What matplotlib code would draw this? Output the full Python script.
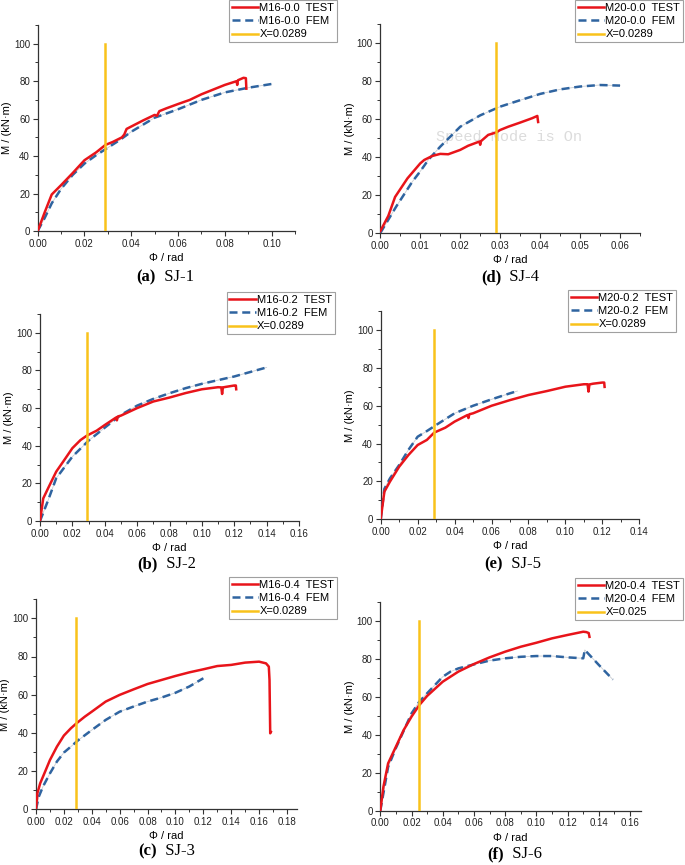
import matplotlib
matplotlib.use("Agg")
import matplotlib.pyplot as plt
from matplotlib.ticker import MultipleLocator, FormatStrFormatter
from matplotlib.lines import Line2D

# ---------------- data ----------------
# (a) SJ-1
a_test_x = [0, 0.003, 0.006, 0.01, 0.015, 0.02, 0.025, 0.029, 0.032, 0.036, 0.037, 0.038, 0.04, 0.045, 0.05, 0.051,
            0.052, 0.055, 0.06, 0.065, 0.07, 0.075, 0.08, 0.085, 0.0853, 0.0856, 0.088, 0.089, 0.0892]
a_test_y = [0, 10, 19.5, 24.5, 31, 37.8, 42, 46, 47.5, 50, 51.5, 54.5, 55.8, 59, 62, 61.5,
            64, 65.5, 67.8, 70, 73, 75.5, 78, 80, 78, 80.5, 81.8, 81.6, 76]
a_fem_x = [0, 0.003, 0.006, 0.01, 0.015, 0.02, 0.025, 0.03, 0.035, 0.04, 0.05, 0.06, 0.07, 0.08, 0.09, 0.1]
a_fem_y = [0, 7, 14.8, 22.5, 30, 36, 40.5, 44.5, 48.5, 53, 60.5, 65, 70, 74, 76.5, 78.5]

# (d) SJ-4
d_test_x = [0, 0.002, 0.0037, 0.0068, 0.01, 0.011, 0.013, 0.015, 0.017, 0.02, 0.022, 0.0248, 0.025, 0.0252,
            0.027, 0.029, 0.03, 0.032, 0.035, 0.038, 0.0393, 0.0395]
d_test_y = [1, 9, 19, 28.8, 36.7, 38.5, 40.6, 41.7, 41.5, 43.8, 46, 48.2, 46.5, 48.4,
            51.7, 53, 54.3, 56, 58.2, 60.5, 61.7, 58.5]
d_fem_x = [0, 0.004, 0.008, 0.01, 0.012, 0.015, 0.02, 0.025, 0.03, 0.035, 0.04, 0.045, 0.05, 0.055, 0.06]
d_fem_y = [0, 14, 27, 32.5, 38.5, 45.5, 56, 62, 66.6, 70, 73.3, 75.7, 77.2, 78, 77.7]

# (b) SJ-2
b_test_x = [0, 0.002, 0.005, 0.01, 0.015, 0.02, 0.025, 0.029, 0.035, 0.04, 0.047, 0.0475, 0.048, 0.05, 0.06, 0.07,
            0.08, 0.09, 0.1, 0.11, 0.112, 0.1125, 0.113, 0.115, 0.12, 0.121, 0.1212]
b_test_y = [0, 12, 17.4, 26.2, 32.4, 38.7, 43, 45.4, 48, 51, 55, 53.5, 55.5, 56, 60, 63.5,
            65.6, 68, 70, 71.1, 71, 67.5, 71, 71.3, 72, 72, 70]
b_fem_x = [0, 0.005, 0.01, 0.02, 0.03, 0.04, 0.05, 0.06, 0.07, 0.08, 0.09, 0.1, 0.12, 0.14]
b_fem_y = [0, 11, 22.7, 34.2, 42.7, 49.6, 56.4, 61.3, 64.9, 67.9, 70.6, 72.9, 76.8, 81.6]

# (e) SJ-5
e_test_x = [0, 0.002, 0.005, 0.01, 0.015, 0.02, 0.025, 0.029, 0.035, 0.04, 0.047, 0.0475, 0.048, 0.05, 0.06, 0.07,
            0.08, 0.09, 0.1, 0.11, 0.112, 0.1125, 0.113, 0.115, 0.12, 0.121, 0.1212]
e_test_y = [0, 14.5, 19.8, 27.7, 33.9, 39.2, 41.9, 45.8, 48.4, 51.6, 55.1, 53.5, 55.5, 56, 60, 63,
            65.7, 67.8, 70.1, 71.4, 71.4, 67.5, 71.3, 71.7, 72.3, 72.3, 70]
e_fem_x = [0, 0.002, 0.005, 0.01, 0.015, 0.02, 0.025, 0.03, 0.04, 0.05, 0.06, 0.07, 0.074]
e_fem_y = [0, 16, 21.5, 28.6, 36.6, 43.6, 46.6, 49.8, 56, 60, 63.4, 66.6, 67.8]

# (c) SJ-3
c_test_x = [0, 0.001, 0.003, 0.006, 0.01, 0.015, 0.02, 0.025, 0.029, 0.035, 0.04, 0.05, 0.06, 0.07, 0.08, 0.09,
            0.1, 0.11, 0.12, 0.13, 0.14, 0.15, 0.16, 0.165, 0.167, 0.1675, 0.168, 0.1685]
c_test_y = [0, 8.4, 13.6, 18.8, 25.8, 32.8, 38.6, 42.4, 45, 48.5, 51.1, 56.4, 59.9, 62.8, 65.6, 67.7,
            69.8, 71.7, 73.3, 75, 75.6, 76.8, 77.3, 76.4, 74.7, 67.7, 39.8, 40.5]
c_fem_x = [0, 0.002, 0.005, 0.01, 0.015, 0.02, 0.025, 0.03, 0.04, 0.05, 0.06, 0.07, 0.08, 0.09, 0.1, 0.11, 0.12]
c_fem_y = [0, 6.6, 11.9, 18.8, 25, 29.7, 32.8, 36, 41.5, 46.8, 51.1, 53.8, 56.4, 58.5, 61, 64.3, 68.6]

# (f) SJ-6
f_test_x = [0, 0.002, 0.005, 0.008, 0.01, 0.015, 0.02, 0.025, 0.03, 0.04, 0.05, 0.06, 0.07, 0.08, 0.09,
            0.1, 0.11, 0.12, 0.13, 0.132, 0.1335, 0.134]
f_test_y = [0, 12.6, 24.9, 30.2, 33.7, 42.5, 49.5, 55.6, 60.4, 67.9, 73.2, 77.2, 80.7, 83.7, 86.3,
            88.4, 90.7, 92.5, 94.2, 94, 93.5, 91.5]
f_fem_x = [0, 0.005, 0.01, 0.02, 0.025, 0.03, 0.04, 0.045, 0.05, 0.06, 0.07, 0.08, 0.09, 0.1, 0.11,
           0.12, 0.13, 0.131, 0.14, 0.149]
f_fem_y = [0, 23, 33, 51.2, 57.4, 61.8, 70.5, 73.2, 74.9, 77, 79, 80.2, 81, 81.4, 81.4,
           80.7, 80.2, 84.6, 76.7, 69]

# ---------------- style ----------------
RED = "#e8141a"
BLUE = "#2f64a0"
YEL = "#f9c21b"
SANS = ["Liberation Sans", "DejaVu Sans"]
SERIF = ["Liberation Serif", "DejaVu Serif"]
DASH = (3.2, 1.9)

W, H = 685, 865
fig = plt.figure(figsize=(W / 100, H / 100), dpi=100)


def panel(px0, px1, py0, py1, xmax, xstep, tx, ty, fx, fy, name, vx, vlabel,
          leg_box, cap_xy, tag, sj, yscale_top=110):
    ax = fig.add_axes([px0 / W, 1 - py0 / H, (px1 - px0) / W, (py0 - py1) / H])
    ax.plot(fx, fy, color="#c8ccd2", lw=0.6, zorder=2)
    ax.plot(fx, fy, color=BLUE, lw=1.8, dashes=DASH, zorder=3)
    ax.plot(tx, ty, color=RED, lw=1.8, zorder=4)
    ax.plot([vx, vx], [0, 100], color=YEL, lw=1.8, zorder=5)
    ax.set_xlim(0, xmax)
    ax.set_ylim(0, yscale_top)
    for s in ("top", "right"):
        ax.spines[s].set_visible(False)
    for s in ("left", "bottom"):
        ax.spines[s].set_color("#333333")
        ax.spines[s].set_linewidth(0.9)
    ax.xaxis.set_major_locator(MultipleLocator(xstep))
    ax.xaxis.set_minor_locator(MultipleLocator(xstep / 2))
    ax.yaxis.set_major_locator(MultipleLocator(20))
    ax.yaxis.set_minor_locator(MultipleLocator(10))
    ax.xaxis.set_major_formatter(FormatStrFormatter("%.2f"))
    ax.yaxis.set_major_formatter(FormatStrFormatter("%d"))
    ax.tick_params(which="major", direction="out", length=3.5, width=0.8, labelsize=7,
                   colors="#333333", pad=2)
    ax.tick_params(which="minor", direction="out", length=2, width=0.7, colors="#333333")
    for lab in ax.get_xticklabels() + ax.get_yticklabels():
        lab.set_family(SANS)
        lab.set_color("#222222")
    ax.set_xlabel("Φ / rad", fontsize=8, family=SANS, labelpad=3)
    ax.set_ylabel("M / (kN·m)", fontsize=8, family=SANS)
    ax.yaxis.set_label_coords(-25.5 / (px1 - px0), 0.5)

    handles = [Line2D([], [], color=RED, lw=1.8),
               Line2D([], [], color=BLUE, lw=1.8, dashes=DASH),
               Line2D([], [], color=YEL, lw=1.8)]
    labels = [name + "  TEST", name + "  FEM", vlabel]
    lx1, ly0 = leg_box
    leg = ax.legend(handles, labels, loc="upper right",
                    bbox_to_anchor=(lx1 / W, 1 - ly0 / H), bbox_transform=fig.transFigure,
                    prop={"family": SANS, "size": 8}, frameon=True, fancybox=False,
                    edgecolor="#888888", borderpad=0.25, labelspacing=0.3,
                    handlelength=2.4, handletextpad=0.1, borderaxespad=0)
    leg.get_frame().set_linewidth(0.8)

    cx, cy = cap_xy
    fig.text(cx / W, 1 - cy / H, tag, fontsize=12, family=SERIF, fontweight="bold",
             ha="right", va="center")
    fig.text(cx / W, 1 - cy / H, "  " + sj, fontsize=12, family=SERIF,
             ha="left", va="center")
    return ax


panel(37.7, 295, 231, 25, 0.11, 0.02, a_test_x, a_test_y, a_fem_x, a_fem_y,
      "M16-0.0", 0.0289, "X=0.0289", (337, 0), (156, 277), "(a)", "SJ-1")
axd = panel(380.3, 640, 233, 24.3, 0.065, 0.01, d_test_x, d_test_y, d_fem_x, d_fem_y,
            "M20-0.0", 0.0289, "X=0.0289", (683, 0), (501, 277), "(d)", "SJ-4")
axd.text(0.0323, 50.6, "Speed Mode is On", fontsize=11, family=["Liberation Mono", "DejaVu Sans Mono"],
         color="#dcdcdc", ha="center", va="center", zorder=1)
panel(40, 299, 521, 314, 0.16, 0.02, b_test_x, b_test_y, b_fem_x, b_fem_y,
      "M16-0.2", 0.0289, "X=0.0289", (335, 292), (158, 564), "(b)", "SJ-2")
panel(380.7, 639.3, 519, 311.4, 0.14, 0.02, e_test_x, e_test_y, e_fem_x, e_fem_y,
      "M20-0.2", 0.0289, "X=0.0289", (676, 290), (503, 564), "(e)", "SJ-5")
panel(36, 296.7, 809.3, 599.2, 0.187, 0.02, c_test_x, c_test_y, c_fem_x, c_fem_y,
      "M16-0.4", 0.0289, "X=0.0289", (337, 577), (157, 851), "(c)", "SJ-3")
panel(380.3, 641, 810.7, 601.7, 0.167, 0.02, f_test_x, f_test_y, f_fem_x, f_fem_y,
      "M20-0.4", 0.025, "X=0.025", (683, 578), (504, 854), "(f)", "SJ-6")

fig.savefig("out.png", dpi=100)
